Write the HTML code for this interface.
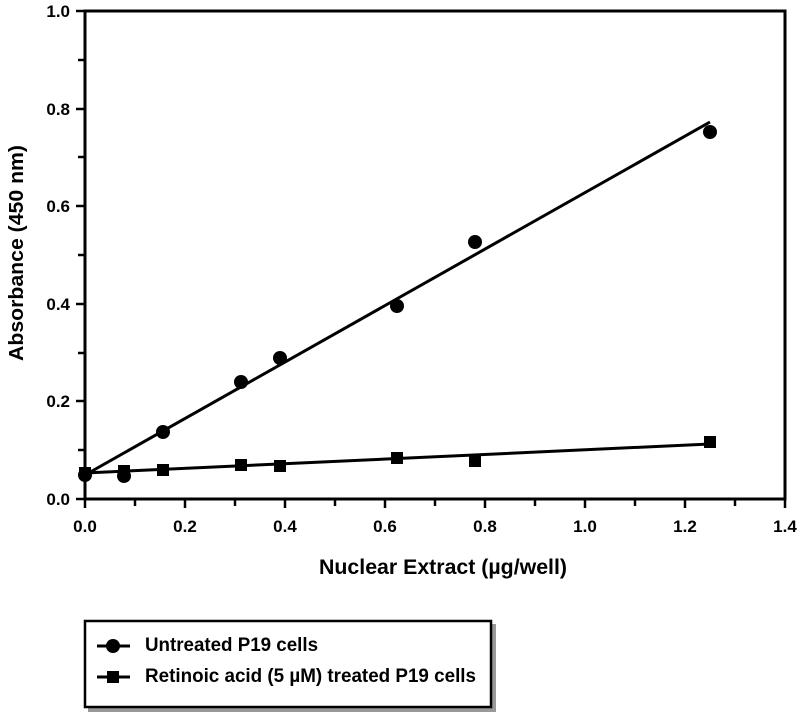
<!DOCTYPE html>
<html><head><style>body{margin:0;background:#fff}</style></head><body>
<svg width="800" height="714" xmlns="http://www.w3.org/2000/svg" font-family="Liberation Sans, Arial, sans-serif" font-weight="bold">
<rect width="800" height="714" fill="#fff"/>
<rect x="85" y="11" width="700" height="488" fill="none" stroke="#000" stroke-width="3"/>
<g stroke="#000" stroke-width="2.5">
<line x1="85" y1="499" x2="85" y2="508"/><line x1="135" y1="499" x2="135" y2="506"/>
<line x1="185" y1="499" x2="185" y2="508"/><line x1="235" y1="499" x2="235" y2="506"/>
<line x1="285" y1="499" x2="285" y2="508"/><line x1="335" y1="499" x2="335" y2="506"/>
<line x1="385" y1="499" x2="385" y2="508"/><line x1="435" y1="499" x2="435" y2="506"/>
<line x1="485" y1="499" x2="485" y2="508"/><line x1="535" y1="499" x2="535" y2="506"/>
<line x1="585" y1="499" x2="585" y2="508"/><line x1="635" y1="499" x2="635" y2="506"/>
<line x1="685" y1="499" x2="685" y2="508"/><line x1="735" y1="499" x2="735" y2="506"/>
<line x1="785" y1="499" x2="785" y2="508"/>
<line x1="76" y1="499" x2="85" y2="499"/><line x1="78" y1="450" x2="85" y2="450"/>
<line x1="76" y1="401" x2="85" y2="401"/><line x1="78" y1="353" x2="85" y2="353"/>
<line x1="76" y1="304" x2="85" y2="304"/><line x1="78" y1="255" x2="85" y2="255"/>
<line x1="76" y1="206" x2="85" y2="206"/><line x1="78" y1="157" x2="85" y2="157"/>
<line x1="76" y1="109" x2="85" y2="109"/><line x1="78" y1="60" x2="85" y2="60"/>
<line x1="76" y1="11" x2="85" y2="11"/>
</g>
<g font-size="17" text-anchor="middle">
<text x="85" y="532">0.0</text><text x="185" y="532">0.2</text><text x="285" y="532">0.4</text>
<text x="385" y="532">0.6</text><text x="485" y="532">0.8</text><text x="585" y="532">1.0</text>
<text x="685" y="532">1.2</text><text x="785" y="532">1.4</text>
</g>
<g font-size="17" text-anchor="end">
<text x="70" y="505">0.0</text><text x="70" y="407">0.2</text><text x="70" y="310">0.4</text>
<text x="70" y="212">0.6</text><text x="70" y="115">0.8</text><text x="70" y="17">1.0</text>
</g>
<text x="319" y="574" font-size="21" textLength="248" lengthAdjust="spacingAndGlyphs">Nuclear Extract (µg/well)</text>
<text transform="translate(23,361) rotate(-90)" font-size="20" textLength="216" lengthAdjust="spacingAndGlyphs">Absorbance (450 nm)</text>
<g stroke="#000" stroke-width="3">
<line x1="85" y1="475" x2="710" y2="122"/>
<line x1="85" y1="473" x2="710" y2="444"/>
</g>
<g fill="#000">
<circle cx="85" cy="475" r="7"/><circle cx="124" cy="476" r="7"/><circle cx="163" cy="432" r="7"/>
<circle cx="241" cy="382" r="7"/><circle cx="280" cy="358" r="7"/><circle cx="397" cy="306" r="7"/>
<circle cx="475" cy="242" r="7"/><circle cx="710" cy="132" r="7"/>
<rect x="79" y="467" width="12" height="12"/><rect x="118" y="465" width="12" height="12"/>
<rect x="157" y="464" width="12" height="12"/><rect x="235" y="459" width="12" height="12"/>
<rect x="274" y="460" width="12" height="12"/><rect x="391" y="452" width="12" height="12"/>
<rect x="469" y="455" width="12" height="12"/><rect x="704" y="436" width="12" height="12"/>
</g>
<rect x="88" y="624" width="408" height="88" fill="#999"/>
<rect x="85" y="621" width="406" height="86" fill="#fff" stroke="#000" stroke-width="2.5"/>
<g stroke="#000" stroke-width="3"><line x1="97" y1="646" x2="130" y2="646"/><line x1="97" y1="677" x2="130" y2="677"/></g>
<circle cx="113" cy="646" r="7"/><rect x="107" y="671" width="12" height="12"/>
<g font-size="19"><text x="145" y="651" textLength="173" lengthAdjust="spacingAndGlyphs">Untreated P19 cells</text><text x="145" y="682" textLength="331" lengthAdjust="spacingAndGlyphs">Retinoic acid (5 µM) treated P19 cells</text></g>
</svg>
</body></html>
